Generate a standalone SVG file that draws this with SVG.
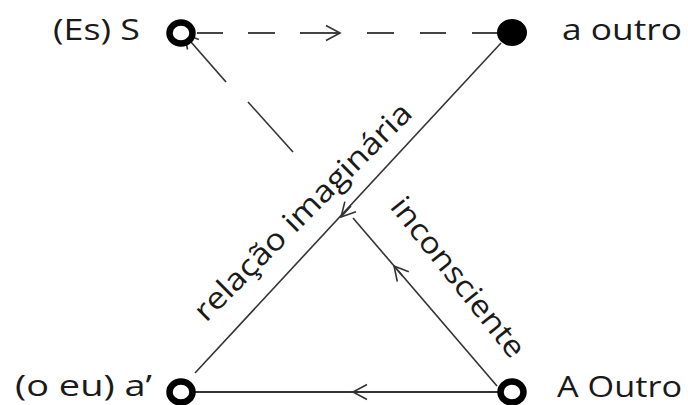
<svg xmlns="http://www.w3.org/2000/svg" width="688" height="405" viewBox="0 0 688 405">
<style>
.lbl{font-family:"Open Sans","Noto Sans","DejaVu Sans",sans-serif;font-size:30px;fill:#1a1a1a}
.ln{fill:none;stroke:#333;stroke-width:1.6}
.dash{fill:none;stroke:#444;stroke-width:2.2}
.ring{fill:#fff;stroke:#000;stroke-width:6.5}
.dot{fill:#000}
</style>
<defs>
<marker id="chev" viewBox="-16 -10 18 20" markerWidth="18" markerHeight="20" refX="0" refY="0" orient="auto" markerUnits="userSpaceOnUse">
<path d="M-14,-7.5 L0,0 L-14,7.5" fill="none" stroke="#333" stroke-width="1.6"/>
</marker>
</defs>
<rect width="688" height="405" fill="#fff"/>
<g id="connectors">
<path class="dash" d="M197,33H223 M248,33H275 M367,33H394 M420,33H446 M472,33H500"/>
<path class="dash" d="M300,33 L340,33" marker-end="url(#chev)"/>
<path class="ln" d="M501,43 L195,373"/>
<path class="ln" d="M351,206 L341,217" marker-end="url(#chev)"/>
<path class="ln" d="M497,386 L353,218"/>
<path class="ln" d="M402.5,276 L394,266" marker-end="url(#chev)"/>
<path class="ln" d="M293,152 L248,102"/>
<path class="ln" d="M226,82 L184,34" marker-end="url(#chev)"/>
<path class="ln" style="stroke-width:2" d="M500,392 L193,392"/>
<path class="ln" d="M366,392 L353,392" marker-end="url(#chev)"/>
</g>
<g id="node-S">
<ellipse class="ring" cx="181" cy="33" rx="11.5" ry="10.5"/>
<text class="lbl" x="53" y="40" textLength="87" lengthAdjust="spacingAndGlyphs">(Es) S</text>
</g>
<g id="node-a">
<ellipse class="dot" cx="512" cy="32.5" rx="15" ry="13.5"/>
<text class="lbl" x="562" y="40" textLength="120" lengthAdjust="spacingAndGlyphs">a outro</text>
</g>
<g id="node-a-prime">
<ellipse class="ring" cx="181" cy="392" rx="11.5" ry="10.5"/>
<text class="lbl" x="15" y="396" textLength="137" lengthAdjust="spacingAndGlyphs">(o eu) a’</text>
</g>
<g id="node-A">
<ellipse class="ring" cx="512" cy="392" rx="11.5" ry="10.5"/>
<text class="lbl" x="557" y="397" textLength="125" lengthAdjust="spacingAndGlyphs">A Outro</text>
</g>
<g id="edge-labels">
<text class="lbl" transform="translate(206,323) rotate(-45)" textLength="294" lengthAdjust="spacingAndGlyphs">relação imaginária</text>
<text class="lbl" transform="translate(389,207) rotate(51.4)" textLength="196" lengthAdjust="spacingAndGlyphs">inconsciente</text>
</g>
</svg>
